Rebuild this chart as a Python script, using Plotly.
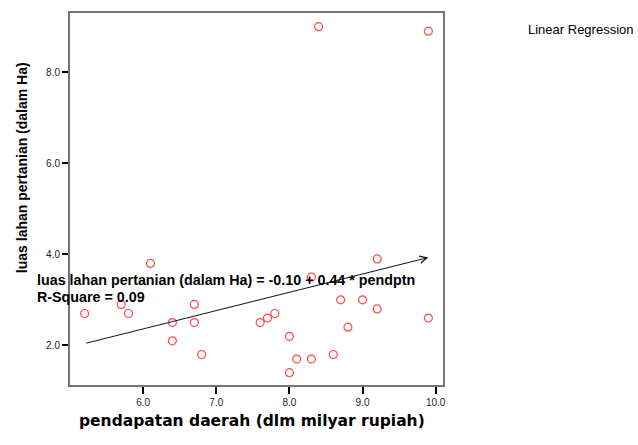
import plotly.graph_objects as go

# data
pendapatan = [8.4, 9.9, 5.2, 5.7, 5.8, 6.1, 6.4, 6.4, 6.7, 6.7, 6.8, 7.6, 7.7,
              7.8, 8.0, 8.0, 8.1, 8.3, 8.3, 8.6, 8.7, 8.8, 9.0, 9.2, 9.2, 9.9]
luas_lahan = [9.0, 8.9, 2.7, 2.9, 2.7, 3.8, 2.5, 2.1, 2.9, 2.5, 1.8, 2.5, 2.6,
              2.7, 2.2, 1.4, 1.7, 1.7, 3.5, 1.8, 3.0, 2.4, 3.0, 3.9, 2.8, 2.6]
fit_x = [5.2, 9.9]
fit_y = [2.04, 3.93]
x_ticks = [6.0, 7.0, 8.0, 9.0, 10.0]
y_ticks = [2.0, 4.0, 6.0, 8.0]
eq_text = "luas lahan pertanian (dalam Ha) = -0.10 + 0.44 * pendptn"
r2_text = "R-Square = 0.09"
x_title = "pendapatan daerah (dlm milyar rupiah)"
y_title = "luas lahan pertanian (dalam Ha)"

fig = go.Figure()
fig.add_trace(go.Scatter(
    x=pendapatan, y=luas_lahan, mode="markers",
    marker=dict(symbol="circle-open", size=8, color="#ff4d4d",
                line=dict(width=1.2, color="#ff4d4d")),
    showlegend=False, cliponaxis=False))

# regression line with arrowhead
fig.add_annotation(x=fit_x[1], y=fit_y[1], ax=fit_x[0], ay=fit_y[0],
                   xref="x", yref="y", axref="x", ayref="y",
                   showarrow=True, arrowhead=5, arrowsize=1.4, arrowwidth=1,
                   arrowcolor="#111111", text="")

lab_font = dict(family="Liberation Sans, Arial", size=14.3, color="#000000")
fig.add_annotation(x=-0.0938, y=0.2834, xref="paper", yref="paper",
                   text="<b>" + eq_text + "</b>", showarrow=False,
                   xanchor="left", yanchor="middle", font=lab_font)
fig.add_annotation(x=-0.0938, y=0.2361, xref="paper", yref="paper",
                   text="<b>" + r2_text + "</b>", showarrow=False,
                   xanchor="left", yanchor="middle", font=lab_font)
fig.add_annotation(x=1.5174, y=0.9545, xref="paper", yref="paper",
                   text="Linear Regression", showarrow=False,
                   xanchor="right", yanchor="middle",
                   font=dict(family="Liberation Sans, Arial", size=13, color="#000000"))
fig.add_annotation(x=0.489, y=-0.098, xref="paper", yref="paper",
                   text="<b>" + x_title + "</b>", showarrow=False,
                   xanchor="center", yanchor="middle",
                   font=dict(family="DejaVu Sans", size=15.5, color="#000000"))
fig.add_annotation(x=-0.1287, y=0.5856, xref="paper", yref="paper",
                   text="<b>" + y_title + "</b>", showarrow=False, textangle=-90,
                   xanchor="center", yanchor="middle",
                   font=dict(family="Liberation Sans, Arial", size=14, color="#000000"))

axis_common = dict(showgrid=False, zeroline=False, showline=True, mirror=True,
                   linecolor="#73737f", linewidth=2, ticks="outside",
                   tickcolor="#000000", tickwidth=2,
                   tickfont=dict(family="Liberation Sans, Arial", size=10, color="#222222"),
                   tickformat=".1f")

fig.update_xaxes(range=[5.0, 10.1], tickvals=x_ticks, ticklen=7, **axis_common)
fig.update_yaxes(range=[1.13, 9.3], tickvals=y_ticks, ticklen=6, **axis_common)

fig.update_layout(width=638, height=445, margin=dict(l=70, r=195, t=11, b=60),
                  plot_bgcolor="white", paper_bgcolor="white", showlegend=False)

# remove the browser's default 8px body margin so the figure fills the window
fig.write_html("out.html", config={"displayModeBar": False},
               post_script="document.body.style.margin='0px';")
